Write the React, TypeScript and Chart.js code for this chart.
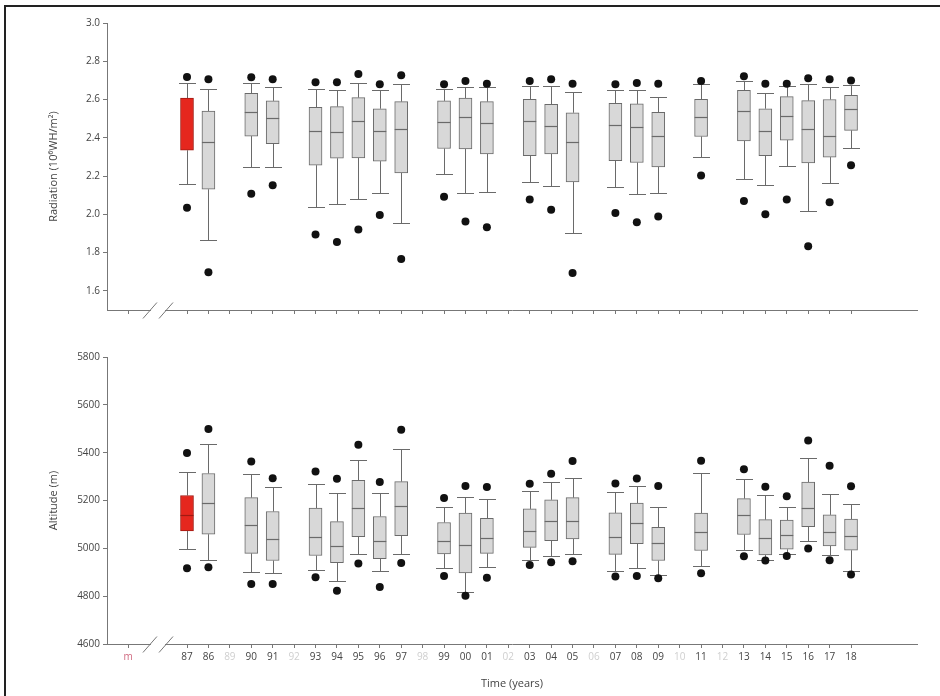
import React, { useEffect, useRef } from 'react';
import { Chart, registerables } from 'chart.js';

Chart.register(...registerables);

// ---------- data ----------
const boxYears = ['87', '86', '90', '91', '93', '94', '95', '96', '97', '99', '00', '01', '03', '04', '05', '07', '08', '09', '11', '13', '14', '15', '16', '17', '18'];
const boxSlots = [0, 1, 3, 4, 6, 7, 8, 9, 10, 12, 13, 14, 16, 17, 18, 20, 21, 22, 24, 26, 27, 28, 29, 30, 31];
const highlightYear = '87';

const slotTickValues = [-2.75, 0, 1, 2, 3, 4, 5, 6, 7, 8, 9, 10, 11, 12, 13, 14, 15, 16, 17, 18, 19, 20, 21, 22, 23, 24, 25, 26, 27, 28, 29, 30, 31];
const slotTickLabels = ['m', '87', '86', '89', '90', '91', '92', '93', '94', '95', '96', '97', '98', '99', '00', '01', '02', '03', '04', '05', '06', '07', '08', '09', '10', '11', '12', '13', '14', '15', '16', '17', '18'];
const fadedLabels = ['89', '92', '98', '02', '06', '10', '12'];
const breakMarks = [-1.73, -0.98];

// Radiation (10^6 WH/m^2)
const radMax = [2.685, 2.654, 2.685, 2.668, 2.654, 2.650, 2.689, 2.650, 2.682, 2.655, 2.668, 2.664, 2.669, 2.669, 2.638, 2.650, 2.650, 2.615, 2.680, 2.699, 2.636, 2.669, 2.682, 2.668, 2.675];
const radQ3 = [2.607, 2.540, 2.633, 2.593, 2.559, 2.563, 2.610, 2.552, 2.589, 2.593, 2.607, 2.589, 2.601, 2.575, 2.531, 2.580, 2.577, 2.533, 2.601, 2.648, 2.552, 2.615, 2.594, 2.600, 2.622];
const radMedian = [null, 2.379, 2.533, 2.502, 2.437, 2.428, 2.489, 2.433, 2.447, 2.482, 2.507, 2.475, 2.486, 2.461, 2.377, 2.465, 2.456, 2.412, 2.509, 2.538, 2.433, 2.516, 2.447, 2.412, 2.551];
const radQ1 = [2.335, 2.131, 2.409, 2.369, 2.257, 2.293, 2.295, 2.278, 2.217, 2.344, 2.342, 2.316, 2.306, 2.316, 2.169, 2.281, 2.271, 2.248, 2.407, 2.384, 2.306, 2.388, 2.269, 2.299, 2.439];
const radMin = [2.159, 1.867, 2.245, 2.245, 2.038, 2.052, 2.082, 2.112, 1.956, 2.213, 2.112, 2.115, 2.169, 2.147, 1.903, 2.143, 2.106, 2.110, 2.302, 2.183, 2.155, 2.251, 2.015, 2.166, 2.346];
const radOutHigh = [2.718, 2.706, 2.717, 2.706, 2.690, 2.690, 2.734, 2.680, 2.727, 2.680, 2.697, 2.682, 2.697, 2.706, 2.682, 2.680, 2.687, 2.683, 2.697, 2.722, 2.683, 2.683, 2.711, 2.706, 2.699];
const radOutLow = [2.035, 1.697, 2.108, 2.152, 1.895, 1.856, 1.921, 1.996, 1.767, 2.092, 1.963, 1.933, 2.078, 2.024, 1.694, 2.007, 1.958, 1.989, 2.203, 2.070, 2.000, 2.077, 1.833, 2.063, 2.257];
const radTicks = [1.6, 1.8, 2.0, 2.2, 2.4, 2.6, 2.8, 3.0];

// Altitude (m)
const altMax = [5321, 5437, 5309, 5257, 5270, 5231, 5370, 5231, 5416, 5171, 5214, 5208, 5238, 5278, 5296, 5235, 5261, 5171, 5313, 5291, 5225, 5171, 5376, 5229, 5186];
const altQ3 = [5221, 5313, 5212, 5154, 5168, 5112, 5284, 5133, 5279, 5108, 5147, 5125, 5165, 5203, 5212, 5148, 5189, 5088, 5147, 5208, 5120, 5118, 5277, 5140, 5122];
const altMedian = [5140, 5189, 5097, 5038, 5048, 5010, 5168, 5032, 5178, 5030, 5014, 5042, 5074, 5116, 5113, 5049, 5104, 5024, 5069, 5140, 5042, 5056, 5168, 5070, 5053];
const altQ1 = [5073, 5059, 4979, 4949, 4970, 4940, 5049, 4957, 5053, 4977, 4897, 4979, 5004, 5032, 5039, 4975, 5020, 4949, 4991, 5058, 4972, 4996, 5091, 5010, 4992];
const altMin = [4996, 4953, 4903, 4896, 4910, 4865, 4977, 4905, 4977, 4919, 4816, 4924, 4951, 4970, 4977, 4904, 4918, 4889, 4928, 4993, 4953, 4978, 5030, 4972, 4904];
const altOutHigh = [5399, 5499, 5363, 5293, 5321, 5291, 5433, 5277, 5496, 5210, 5261, 5256, 5270, 5312, 5365, 5271, 5292, 5261, 5366, 5331, 5258, 5218, 5451, 5345, 5260];
const altOutLow = [4917, 4921, 4851, 4851, 4879, 4823, 4937, 4838, 4939, 4884, 4802, 4877, 4930, 4942, 4946, 4882, 4884, 4875, 4896, 4967, 4949, 4968, 4999, 4950, 4891];
const altTicks = [4600, 4800, 5000, 5200, 5400, 5600, 5800];

// ---------- style ----------
const X_MIN = -3.735;
const X_MAX = 34.08;
const FONT = '"Open Sans", "Liberation Sans", sans-serif';
const TEXT = '#444';
const AXIS = '#777';
const GRAY_FILL = '#d8d8d8';
const GRAY_BORDER = '#6a6a6a';
const RED_FILL = '#e5271e';
const RED_BORDER = '#a01a12';
const WHISKER = '#6a6a6a';

type PanelCfg = {
  yTitle: string;
  yMin: number;
  yMax: number;
  yTicks: number[];
  yFmt: (v: number) => string;
  max: number[];
  q3: number[];
  median: (number | null)[];
  q1: number[];
  min: number[];
  outHigh: number[];
  outLow: number[];
  showXLabels: boolean;
  xTitle?: string;
  padTop: number;
  xAxisHeight: number;
};

function makePanel(canvas: HTMLCanvasElement, cfg: PanelCfg) {
  const fills = boxYears.map((y) => (y === highlightYear ? RED_FILL : GRAY_FILL));
  const borders = boxYears.map((y) => (y === highlightYear ? RED_BORDER : GRAY_BORDER));

  const boxPlugin = {
    id: 'boxWhiskers',
    beforeDatasetsDraw(chart: any) {
      const { ctx, scales } = chart;
      const x = scales.x;
      const y = scales.y;
      ctx.save();
      ctx.strokeStyle = WHISKER;
      ctx.lineWidth = 1;
      boxSlots.forEach((s, i) => {
        const px = Math.round(x.getPixelForValue(s)) + 0.5;
        const yMax = Math.round(y.getPixelForValue(cfg.max[i])) + 0.5;
        const yMin = Math.round(y.getPixelForValue(cfg.min[i])) + 0.5;
        ctx.beginPath();
        ctx.moveTo(px, y.getPixelForValue(cfg.q3[i]));
        ctx.lineTo(px, yMax);
        ctx.moveTo(px, y.getPixelForValue(cfg.q1[i]));
        ctx.lineTo(px, yMin);
        ctx.moveTo(px - 8.5, yMax);
        ctx.lineTo(px + 8.5, yMax);
        ctx.moveTo(px - 8.5, yMin);
        ctx.lineTo(px + 8.5, yMin);
        ctx.stroke();
      });
      ctx.restore();
    },
    afterDatasetsDraw(chart: any) {
      const { ctx, scales } = chart;
      const x = scales.x;
      const y = scales.y;
      ctx.save();
      ctx.lineWidth = 1.2;
      boxSlots.forEach((s, i) => {
        const m = cfg.median[i];
        if (m === null || m === undefined) return;
        const px = x.getPixelForValue(s);
        const py = Math.round(y.getPixelForValue(m)) + 0.5;
        ctx.strokeStyle = borders[i];
        ctx.beginPath();
        ctx.moveTo(px - 6.5, py);
        ctx.lineTo(px + 6.5, py);
        ctx.stroke();
      });
      ctx.restore();
    },
    afterDraw(chart: any) {
      const { ctx, scales } = chart;
      const x = scales.x;
      const ay = Math.round(x.top) + 0.5;
      const p0 = x.getPixelForValue(breakMarks[0]);
      const p1 = x.getPixelForValue(breakMarks[1]);
      ctx.save();
      ctx.fillStyle = '#fff';
      ctx.fillRect(p0 + 1, ay - 2, p1 - p0 - 2, 4);
      ctx.strokeStyle = AXIS;
      ctx.lineWidth = 1;
      [p0, p1].forEach((p) => {
        ctx.beginPath();
        ctx.moveTo(p - 7, ay + 8);
        ctx.lineTo(p + 7, ay - 8);
        ctx.stroke();
      });
      ctx.restore();
    },
  };

  return new Chart(canvas, {
    type: 'bar',
    data: {
      datasets: [
        {
          type: 'bar',
          data: boxSlots.map((s, i) => ({ x: s, y: [cfg.q1[i], cfg.q3[i]] })) as any,
          backgroundColor: fills,
          borderColor: borders,
          borderWidth: 1,
          borderSkipped: false,
          barThickness: 13,
          order: 2,
        } as any,
        {
          type: 'scatter',
          data: [
            ...boxSlots.map((s, i) => ({ x: s, y: cfg.outHigh[i] })),
            ...boxSlots.map((s, i) => ({ x: s, y: cfg.outLow[i] })),
          ],
          pointRadius: 4,
          pointBackgroundColor: '#111',
          pointBorderWidth: 0,
          order: 1,
        } as any,
      ],
    },
    options: {
      responsive: false,
      animation: false,
      devicePixelRatio: 1,
      layout: { padding: { left: 47, right: 23, top: cfg.padTop, bottom: 0 } },
      plugins: { legend: { display: false }, tooltip: { enabled: false } },
      scales: {
        x: {
          type: 'linear',
          min: X_MIN,
          max: X_MAX,
          offset: false,
          afterBuildTicks: (s: any) => {
            s.ticks = slotTickValues.map((v) => ({ value: v }));
          },
          afterFit: (s: any) => {
            s.height = cfg.xAxisHeight;
          },
          grid: { drawOnChartArea: false, offset: false, tickLength: 4, color: AXIS },
          border: { color: AXIS, width: 1 },
          ticks: {
            display: cfg.showXLabels,
            autoSkip: false,
            maxRotation: 0,
            padding: 3,
            font: { family: FONT, size: 10 },
            color: (c: any) => {
              const lab = slotTickLabels[c.index];
              if (lab === 'm') return '#d06a80';
              if (fadedLabels.includes(lab)) return '#cfcfcf';
              return TEXT;
            },
            callback: (_v: any, i: number) => slotTickLabels[i],
          },
          title: cfg.xTitle
            ? { display: true, text: cfg.xTitle, color: TEXT, font: { family: FONT, size: 11 }, padding: { top: 0, bottom: 6 } }
            : { display: false },
        } as any,
        y: {
          type: 'linear',
          min: cfg.yMin,
          max: cfg.yMax,
          afterBuildTicks: (s: any) => {
            s.ticks = cfg.yTicks.map((v) => ({ value: v }));
          },
          afterFit: (s: any) => {
            s.width = 60;
          },
          grid: { drawOnChartArea: false, tickLength: 4, color: AXIS },
          border: { color: AXIS, width: 1 },
          ticks: {
            padding: 3,
            color: TEXT,
            font: { family: FONT, size: 10 },
            callback: (v: any) => cfg.yFmt(Number(v)),
          },
          title: { display: true, text: cfg.yTitle, color: TEXT, font: { family: FONT, size: 11 }, padding: { top: 0, bottom: 0 } },
        } as any,
      },
    },
    plugins: [boxPlugin],
  } as any);
}

export default function App() {
  const topRef = useRef<HTMLCanvasElement>(null);
  const botRef = useRef<HTMLCanvasElement>(null);

  useEffect(() => {
    const top = makePanel(topRef.current as HTMLCanvasElement, {
      yTitle: 'Radiation (10⁶WH/m²)',
      yMin: 1.5,
      yMax: 3.0,
      yTicks: radTicks,
      yFmt: (v) => v.toFixed(1),
      max: radMax,
      q3: radQ3,
      median: radMedian,
      q1: radQ1,
      min: radMin,
      outHigh: radOutHigh,
      outLow: radOutLow,
      showXLabels: false,
      padTop: 23,
      xAxisHeight: 20,
    });
    const bot = makePanel(botRef.current as HTMLCanvasElement, {
      yTitle: 'Altitude (m)',
      yMin: 4600,
      yMax: 5800,
      yTicks: altTicks,
      yFmt: (v) => String(v),
      max: altMax,
      q3: altQ3,
      median: altMedian,
      q1: altQ1,
      min: altMin,
      outHigh: altOutHigh,
      outLow: altOutLow,
      showXLabels: true,
      xTitle: 'Time (years)',
      padTop: 27,
      xAxisHeight: 52,
    });
    return () => {
      top.destroy();
      bot.destroy();
    };
  }, []);

  return (
    <div style={{ position: 'fixed', left: 0, top: 0, width: 940, height: 696, background: '#fff', overflow: 'hidden' }}>
      <canvas ref={topRef} width={940} height={330} style={{ position: 'absolute', left: 0, top: 0 }} />
      <canvas ref={botRef} width={940} height={366} style={{ position: 'absolute', left: 0, top: 330 }} />
      <div
        style={{
          position: 'absolute',
          left: 4,
          top: 5,
          width: 940,
          height: 696,
          borderTop: '2px solid #222',
          borderLeft: '2px solid #222',
          pointerEvents: 'none',
        }}
      />
    </div>
  );
}
